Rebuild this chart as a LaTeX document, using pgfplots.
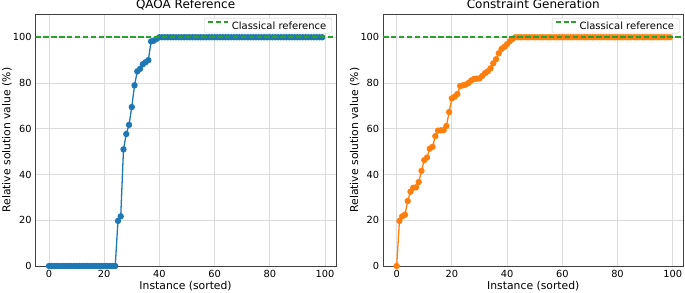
\documentclass[border=0pt]{standalone}
\usepackage{pgfplots}
\pgfplotsset{compat=1.18}
\usepackage{pgfplotstable}
\usepackage{fontspec}
\setmainfont{DejaVu Sans}
\definecolor{C0}{HTML}{1F77B4}
\definecolor{C1}{HTML}{FF7F0E}
\definecolor{C2}{HTML}{2CA02C}

\pgfplotstableread{
x y
0 0
1 0
2 0
3 0
4 0
5 0
6 0
7 0
8 0
9 0
10 0
11 0
12 0
13 0
14 0
15 0
16 0
17 0
18 0
19 0
20 0
21 0
22 0
23 0
24 0
25 19.7
26 21.7
27 51.0
28 57.7
29 61.7
30 69.5
31 79.0
32 85.1
33 86.2
34 88.2
35 89.1
36 90.0
37 98.2
38 98.5
39 99.3
40 100
41 100
42 100
43 100
44 100
45 100
46 100
47 100
48 100
49 100
50 100
51 100
52 100
53 100
54 100
55 100
56 100
57 100
58 100
59 100
60 100
61 100
62 100
63 100
64 100
65 100
66 100
67 100
68 100
69 100
70 100
71 100
72 100
73 100
74 100
75 100
76 100
77 100
78 100
79 100
80 100
81 100
82 100
83 100
84 100
85 100
86 100
87 100
88 100
89 100
90 100
91 100
92 100
93 100
94 100
95 100
96 100
97 100
98 100
99 100
}\qaoa

\pgfplotstableread{
x y
0 0
1 19.7
2 21.7
3 22.4
4 28.4
5 32.5
6 34.2
7 34.4
8 36.7
9 41.6
10 46.3
11 47.4
12 51.3
13 52.1
14 56.8
15 59.2
16 59.3
17 59.4
18 61.2
19 67.3
20 73.3
21 74.0
22 75.2
23 78.7
24 79.0
25 79.3
26 80.0
27 81.1
28 81.8
29 81.9
30 82.0
31 83.1
32 84.3
33 85.1
34 86.4
35 88.6
36 90.4
37 93.0
38 94.9
39 95.8
40 97.0
41 98.3
42 99.3
43 100
44 100
45 100
46 100
47 100
48 100
49 100
50 100
51 100
52 100
53 100
54 100
55 100
56 100
57 100
58 100
59 100
60 100
61 100
62 100
63 100
64 100
65 100
66 100
67 100
68 100
69 100
70 100
71 100
72 100
73 100
74 100
75 100
76 100
77 100
78 100
79 100
80 100
81 100
82 100
83 100
84 100
85 100
86 100
87 100
88 100
89 100
90 100
91 100
92 100
93 100
94 100
95 100
96 100
97 100
98 100
99 100
}\cg

\pgfplotsset{
  myaxis/.style={
    scale only axis,
    width=300.6pt, height=251.6pt,
    xmin=-4.95, xmax=103.95, ymin=0, ymax=110,
    xtick={0,20,...,100}, ytick={0,20,...,100},
    clip mode=individual,
    /pgf/number format/assume math mode=true,
    major tick length=0pt,
    tick label style={font=\fontsize{9.8}{11}\selectfont, inner sep=0pt},
    xticklabel style={anchor=north, yshift=-4pt},
    yticklabel style={anchor=east, xshift=-3.6pt},
    grid=major,
    major grid style={color=black!14, line width=0.8pt},
    axis line style={color=black!75, line width=0.8pt},
    every axis title shift=0pt,
    title style={font=\fontsize{12}{14}\selectfont, at={(axis description cs:0.5,1.0242)}, anchor=base, inner sep=0pt},
    xlabel style={font=\fontsize{10.8}{12}\selectfont, at={(axis description cs:0.5,-0.0934)}, anchor=base, inner sep=0pt},
    ylabel style={font=\fontsize{10.8}{12}\selectfont, at={(axis description cs:-0.0825,0.5)}, anchor=base, inner sep=0pt},
    xlabel={Instance (sorted)},
    ylabel={Relative solution value (\%)},
    legend style={at={(axis description cs:0.987,0.9857)}, anchor=north east,
      draw=black!20, fill=white,
      rounded corners=2pt, font=\fontsize{10}{11}\selectfont,
      inner xsep=2.5pt, inner ysep=0.5pt,
      nodes={inner xsep=3pt, inner ysep=3pt, text height=7.6pt, text depth=0.4pt},
      cells={anchor=west}},
    legend image code/.code={\draw[##1] (0pt,3.8pt) -- (20pt,3.8pt);},
  },
  refline/.style={color=C2, line width=1.9pt, dash pattern=on 5.5pt off 2.4pt},
}

\begin{document}
\begin{tikzpicture}[x=1pt,y=1pt]
\begin{axis}[myaxis, at={(35.3pt,26pt)}, anchor=south west, title={QAOA Reference}]
  \addplot[color=C0, line width=1.3pt, mark=*, mark size=2.5pt, forget plot] table[x=x,y=y] {\qaoa};
  \addplot[refline] coordinates {(-4.95,100) (103.95,100)};
  \addlegendentry{Classical reference}
\end{axis}
\begin{axis}[myaxis, at={(383.0pt,26pt)}, anchor=south west, title={Constraint Generation}]
  \addplot[color=C1, line width=1.3pt, mark=*, mark size=2.5pt, forget plot] table[x=x,y=y] {\cg};
  \addplot[refline] coordinates {(-4.95,100) (103.95,100)};
  \addlegendentry{Classical reference}
\end{axis}
\pgfresetboundingbox
\path[use as bounding box] (0pt,0pt) rectangle (685pt,292pt);
\end{tikzpicture}
\end{document}
